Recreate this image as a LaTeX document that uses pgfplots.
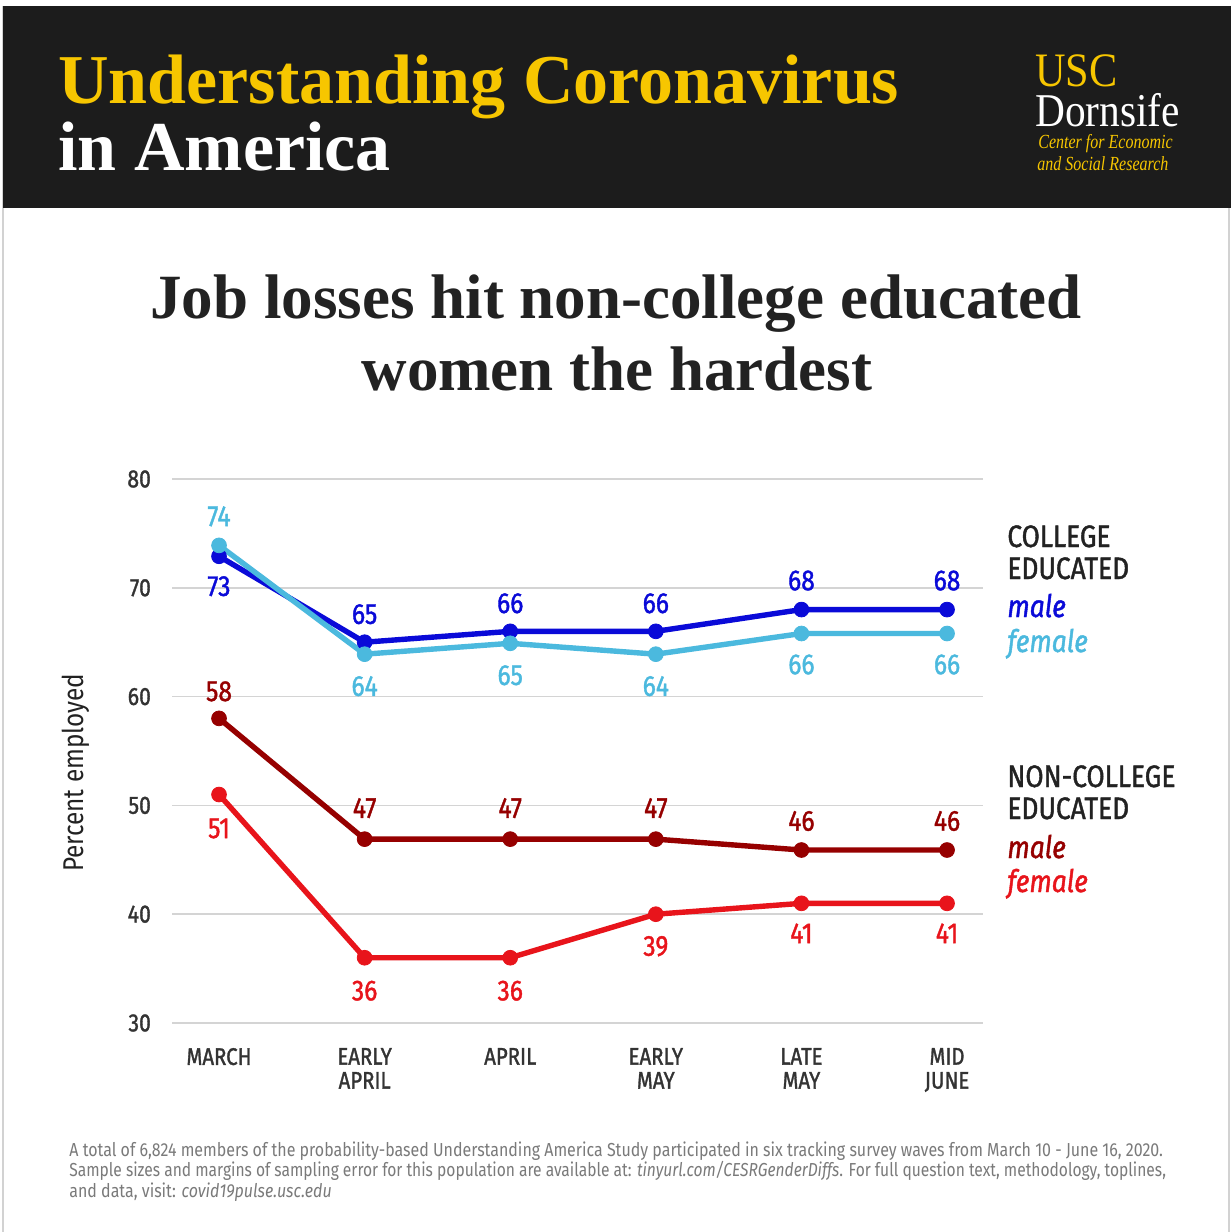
\documentclass[border=0pt]{standalone}
\usepackage{fontspec}
\usepackage{pgfplots}
\pgfplotsset{compat=1.18}
\usepackage{pgfplotstable}
\setmainfont{Liberation Serif}
\newfontfamily\din[FakeStretch=0.85]{Fira Sans}
\newfontfamily\dinm[FakeStretch=0.85, FakeBold=1.3]{Fira Sans}

\definecolor{cmale}{HTML}{0A0AD8}
\definecolor{cfem}{HTML}{4BB9DE}
\definecolor{nmale}{HTML}{960000}
\definecolor{nfem}{HTML}{E8141B}
\definecolor{gold}{HTML}{F7C600}
\definecolor{hdr}{HTML}{1C1C1C}
\definecolor{ttl}{HTML}{222222}
\definecolor{tick}{HTML}{333333}
\definecolor{foot}{HTML}{7A7A7A}
\definecolor{gridc}{HTML}{D4D4D4}

\pgfplotstableread{
x y lab dy
0 72.9 73 -15
1 65.0 65 14
2 66.0 66 14
3 66.0 66 14
4 68.0 68 14.5
5 68.0 68 14.5
}\cm
\pgfplotstableread{
x y lab dy
0 73.9 74 14.5
1 63.9 64 -16
2 64.9 65 -16
3 63.9 64 -16
4 65.8 66 -15.5
5 65.8 66 -15.5
}\cf
\pgfplotstableread{
x y lab dy
0 58.0 58 13.5
1 46.9 47 15.5
2 46.9 47 15.5
3 46.9 47 15.5
4 45.9 46 14.5
5 45.9 46 14.5
}\nm
\pgfplotstableread{
x y lab dy
0 51.0 51 -17
1 36.0 36 -16.5
2 36.0 36 -16.5
3 40.0 39 -16
4 41.0 41 -15
5 41.0 41 -15
}\nf

\pgfplotsset{
  ser/.style={line width=2.7pt, mark=*, mark size=3.7pt,
    mark options={solid, line width=0.4pt},
    nodes near coords={\pgfplotspointmeta},
    point meta=explicit symbolic,
    visualization depends on={\thisrow{dy}\as\dy},
    every node near coord/.append style={anchor=center, yshift=\dy pt,
      font=\dinm\fontsize{14.5}{16}\selectfont, text=#1}},
}

\begin{document}
\begin{tikzpicture}[x=0.5pt,y=0.5pt]
\path[use as bounding box] (0,0) rectangle (1231,-1232);
\fill[white] (0,0) rectangle (1231,-1232);
\draw[gray!35, line width=0.6pt] (3,-6) -- (3,-1232);
\draw[gray!35, line width=0.6pt] (1229,-6) -- (1229,-1232);
\fill[hdr] (3,-6) rectangle (1231,-208);

\node[anchor=base west, inner sep=0, text=gold, font=\fontsize{35}{40}\selectfont\bfseries] at (58,-103) {Understanding Coronavirus};
\node[anchor=base west, inner sep=0, text=white, font=\fontsize{35}{40}\selectfont\bfseries] at (58,-170) {in America};

\node[anchor=base west, inner sep=0, text=gold, font=\fontsize{24}{28}\selectfont] at (1035,-86) {\scalebox{0.88}[1]{USC}};
\node[anchor=base west, inner sep=0, text=white, font=\fontsize{23.5}{28}\selectfont] at (1035,-126) {\scalebox{0.88}[1]{Dornsife}};
\node[anchor=base west, inner sep=0, text=gold, font=\fontsize{10}{12}\selectfont\itshape] at (1038,-148) {\scalebox{0.8}[1]{Center for Economic}};
\node[anchor=base west, inner sep=0, text=gold, font=\fontsize{10}{12}\selectfont\itshape] at (1037,-170) {\scalebox{0.8}[1]{and Social Research}};

\node[anchor=base, inner sep=0, text=ttl, font=\fontsize{31.5}{38}\selectfont\bfseries] at (616,-318) {Job losses hit non-college educated};
\node[anchor=base, inner sep=0, text=ttl, font=\fontsize{31.5}{38}\selectfont\bfseries] at (617,-390) {women the hardest};

\begin{axis}[
  at={(86pt,-511.5pt)}, anchor=south west,
  scale only axis, width=405.5pt, height=272pt,
  xmin=-0.323, xmax=5.247, ymin=30, ymax=80,
  axis line style={draw=none}, tick style={draw=none},
  major tick length=0pt,
  ytick={30,40,50,60,70,80},
  xtick={0,1,2,3,4,5},
  xticklabels={MARCH,{EARLY\\APRIL},APRIL,{EARLY\\MAY},{LATE\\MAY},{MID\\JUNE}},
  xticklabel style={align=center, font=\dinm\fontsize{12}{12}\selectfont, text=tick, yshift=-9pt},
  yticklabel style={font=\dinm\fontsize{12.5}{14}\selectfont, text=tick, xshift=-7pt},
  /pgf/number format/assume math mode=true,
  ymajorgrids, grid style={draw=gridc, line width=0.8pt},
  clip=false,
  ylabel={Percent employed},
  every axis y label/.style={at={(axis description cs:-0.118,0.46)}, rotate=90, anchor=center,
     font=\din\fontsize{14.3}{16}\selectfont, text=ttl},
]
\addplot[cmale, ser=cmale] table[x=x, y=y, meta=lab]{\cm};
\addplot[cfem, ser=cfem] table[x=x, y=y, meta=lab]{\cf};
\addplot[nmale, ser=nmale] table[x=x, y=y, meta=lab]{\nm};
\addplot[nfem, ser=nfem] table[x=x, y=y, meta=lab]{\nf};
\end{axis}

\begin{scope}[every node/.style={anchor=base west, inner sep=0, font=\dinm\fontsize{15.5}{17}\selectfont}]
\node[text=ttl] at (1007,-547) {COLLEGE};
\node[text=ttl] at (1007,-579) {EDUCATED};
\node[text=cmale, font=\dinm\fontsize{15.5}{17}\selectfont\itshape] at (1007,-617) {male};
\node[text=cfem, font=\dinm\fontsize{15.5}{17}\selectfont\itshape] at (1007,-652) {female};
\node[text=ttl] at (1007,-787) {NON-COLLEGE};
\node[text=ttl] at (1007,-819) {EDUCATED};
\node[text=nmale, font=\dinm\fontsize{15.5}{17}\selectfont\itshape] at (1007,-858) {male};
\node[text=nfem, font=\dinm\fontsize{15.5}{17}\selectfont\itshape] at (1007,-892) {female};
\end{scope}

\begin{scope}[every node/.style={anchor=base west, inner sep=0, text=foot, font=\din\fontsize{9.4}{11}\selectfont}]
\node at (69,-1156) {A total of 6,824 members of the probability-based Understanding America Study participated in six tracking survey waves from March 10 - June 16, 2020.};
\node at (69,-1176) {\scalebox{0.975}[1]{Sample sizes and margins of sampling error for this population are available at: \textit{tinyurl.com/CESRGenderDiffs}. For full question text, methodology, toplines,}};
\node at (69,-1197) {and data, visit: \textit{covid19pulse.usc.edu}};
\end{scope}
\end{tikzpicture}
\end{document}
